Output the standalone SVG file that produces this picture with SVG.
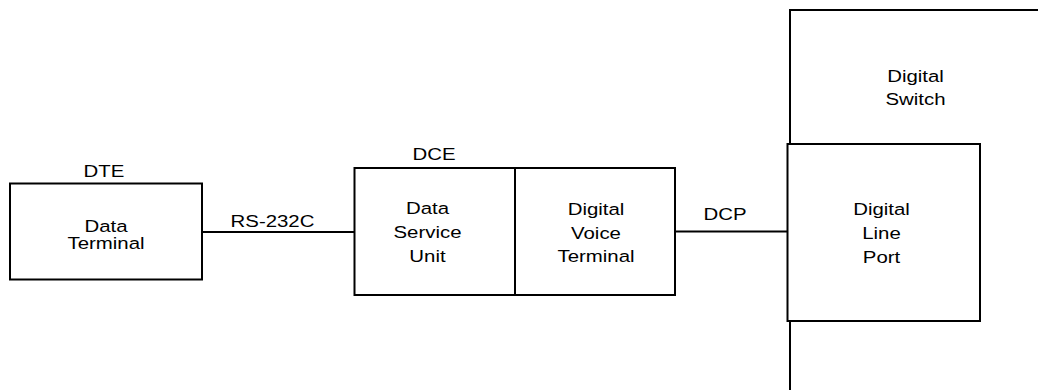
<svg xmlns="http://www.w3.org/2000/svg" width="1038" height="390" viewBox="0 0 1038 390">
<style>
.b{fill:none;stroke:#000;stroke-width:2}
.t{font-family:"Liberation Sans",Arial,sans-serif;font-size:17px;fill:#000;text-anchor:middle}
</style>
<rect width="1038" height="390" fill="#fff"/>
<g id="connectors">
<line class="b" x1="202" y1="232" x2="354.5" y2="232"/>
<line class="b" x1="675" y1="231.5" x2="788" y2="231.5"/>
<text class="t" transform="translate(272.5 227) scale(1.2 1)">RS-232C</text>
<text class="t" transform="translate(725 220) scale(1.2 1)">DCP</text>
</g>
<g id="dte">
<rect class="b" x="10" y="183.5" width="192" height="96"/>
<text class="t" transform="translate(104 176.5) scale(1.2 1)">DTE</text>
<text class="t" transform="translate(106 231.5) scale(1.2 1)">Data</text>
<text class="t" transform="translate(106 249) scale(1.2 1)">Terminal</text>
</g>
<g id="dce">
<rect class="b" x="354.5" y="168" width="320.5" height="127"/>
<line class="b" x1="515" y1="168" x2="515" y2="295"/>
<text class="t" transform="translate(434 160) scale(1.2 1)">DCE</text>
</g>
<g id="dsu">
<text class="t" transform="translate(427.5 214) scale(1.2 1)">Data</text>
<text class="t" transform="translate(427.5 238) scale(1.2 1)">Service</text>
<text class="t" transform="translate(427.5 262) scale(1.2 1)">Unit</text>
</g>
<g id="dvt">
<text class="t" transform="translate(596 215) scale(1.2 1)">Digital</text>
<text class="t" transform="translate(596 238.5) scale(1.2 1)">Voice</text>
<text class="t" transform="translate(596 262) scale(1.2 1)">Terminal</text>
</g>
<g id="switch">
<path class="b" d="M1038 10H790V390"/>
<text class="t" transform="translate(915.5 82) scale(1.2 1)">Digital</text>
<text class="t" transform="translate(915.5 105) scale(1.2 1)">Switch</text>
</g>
<g id="lineport">
<rect class="b" style="fill:#fff" x="787.5" y="144" width="192.5" height="177"/>
<text class="t" transform="translate(881.5 215) scale(1.2 1)">Digital</text>
<text class="t" transform="translate(881.5 239) scale(1.2 1)">Line</text>
<text class="t" transform="translate(881.5 263) scale(1.2 1)">Port</text>
</g>
</svg>
